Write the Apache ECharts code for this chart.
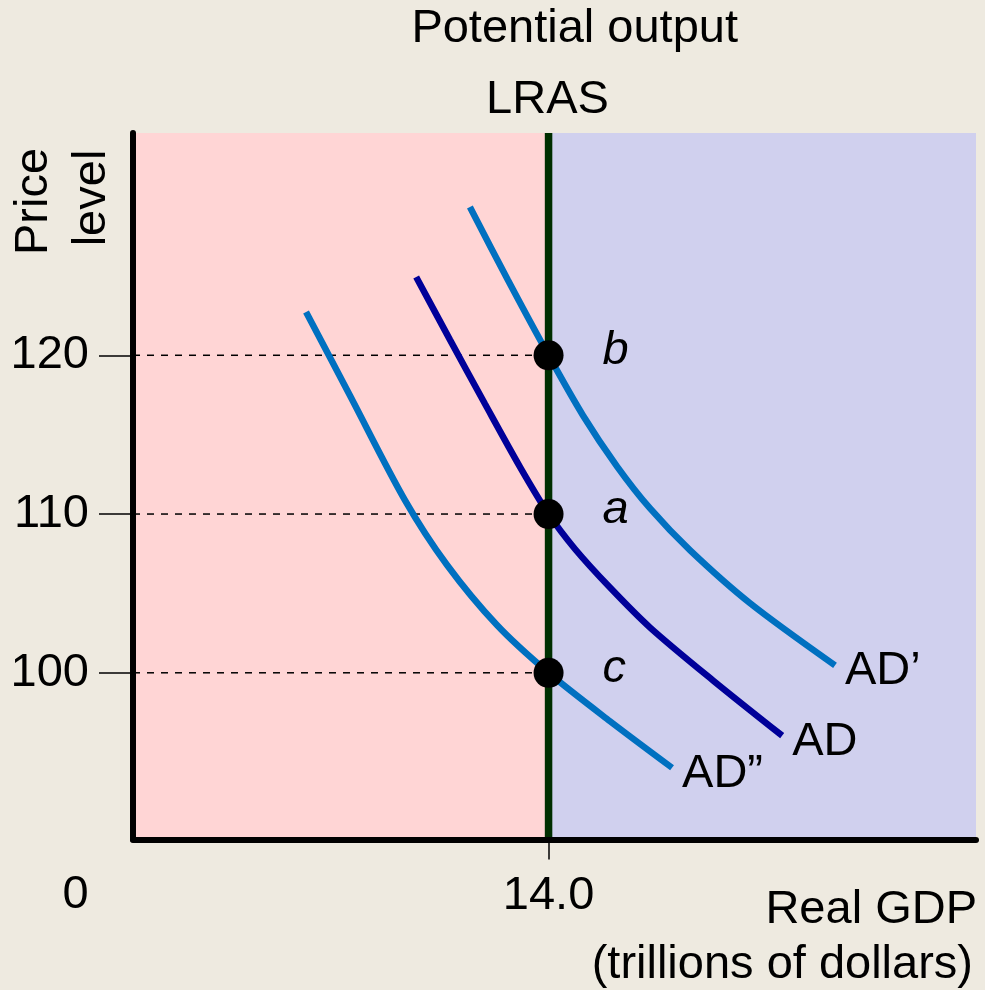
<!DOCTYPE html>
<html>
<head>
<meta charset="utf-8">
<script src="https://cdn.jsdelivr.net/npm/echarts@6/dist/echarts.min.js"></script>
<style>
  html, body { margin: 0; padding: 0; background: #EEEAE0; }
  #chart { width: 985px; height: 990px; }
</style>
</head>
<body>
<div id="chart"></div>
<script>
// Aggregate demand curves (real GDP in trillions, price level)
const adPrime = [[11.35, 129.34], [12.63, 124.74], [14.0, 120], [15.16, 116.21], [16.31, 112.99], [17.42, 110.35], [18.77, 107.71], [20.79, 104.38], [23.65, 100.47]];
const ad = [[9.54, 124.93], [10.68, 120.97], [11.86, 116.93], [13.04, 112.96], [14.0, 110], [14.89, 107.8], [16.07, 105.37], [17.42, 102.85], [19.54, 99.52], [21.87, 96.04]];
const adDoublePrime = [[5.83, 122.73], [7.3, 117.5], [9.16, 110.88], [10.58, 106.79], [12.26, 103.01], [14.0, 100], [16.07, 96.95], [18.16, 94.02]];

// Potential output and the equilibrium price levels on it
const potentialOutput = 14.0;
const priceLevels = [120, 110, 100];
const pointNames = ['b', 'a', 'c'];
const xTicks = [14.0];

const FONT = '"Liberation Sans", Arial, sans-serif';
const FS = 47;

const chart = echarts.init(document.getElementById('chart'));

const equilibria = priceLevels.map((p, i) => ({ value: [potentialOutput, p], name: pointNames[i] }));

const guideSeries = priceLevels.map(p => ({
  type: 'line',
  data: [[0, p], [potentialOutput, p]],
  symbol: 'none',
  silent: true,
  z: 3,
  lineStyle: { color: '#000', width: 1.5, type: [7, 7] }
}));

function adSeries(name, data, color) {
  return {
    name: name,
    type: 'line',
    data: data,
    smooth: 0.3,
    symbol: 'none',
    z: 5,
    lineStyle: { color: color, width: 6.5, cap: 'butt' },
    endLabel: {
      show: true,
      formatter: name,
      color: '#000',
      fontFamily: FONT,
      fontSize: FS,
      distance: 10,
      offset: [0, 6]
    }
  };
}

chart.setOption({
  backgroundColor: '#EEEAE0',
  animation: false,
  grid: { left: 133, top: 133, width: 843, height: 706.5 },
  xAxis: {
    type: 'value',
    min: 0,
    max: 28.4,
    z: 10,
    axisLine: { show: true, onZero: false, lineStyle: { color: '#000', width: 6 } },
    axisTick: { show: true, customValues: xTicks, length: 20, lineStyle: { color: '#000', width: 1.5 } },
    axisLabel: {
      customValues: xTicks,
      formatter: v => v.toFixed(1),
      color: '#000', fontFamily: FONT, fontSize: FS, margin: 33
    },
    splitLine: { show: false }
  },
  yAxis: {
    type: 'value',
    min: 89.5,
    max: 134,
    z: 10,
    axisLine: { show: true, onZero: false, lineStyle: { color: '#000', width: 6 } },
    axisTick: { show: true, customValues: priceLevels, length: 34, lineStyle: { color: '#000', width: 1.5 } },
    axisLabel: {
      customValues: priceLevels,
      color: '#000', fontFamily: FONT, fontSize: FS, margin: 44
    },
    splitLine: { show: false }
  },
  series: [
    {
      type: 'line',
      data: [[potentialOutput, 89.5], [potentialOutput, 134]],
      symbol: 'none',
      z: 4,
      lineStyle: { color: '#002E00', width: 7.5 },
      markArea: {
        silent: true,
        data: [
          [{ xAxis: 0, itemStyle: { color: '#FFD5D5' } }, { xAxis: potentialOutput }],
          [{ xAxis: potentialOutput, itemStyle: { color: '#D0D0EE' } }, { xAxis: 28.4 }]
        ]
      }
    },
    ...guideSeries,
    adSeries('AD\u2019', adPrime, '#0070C0'),
    adSeries('AD', ad, '#000099'),
    adSeries('AD\u201D', adDoublePrime, '#0070C0'),
    {
      type: 'scatter',
      data: equilibria,
      symbolSize: 30,
      z: 8,
      itemStyle: { color: '#000', opacity: 1 },
      label: {
        show: true,
        position: 'right',
        distance: 39,
        offset: [0, -4],
        formatter: p => p.name,
        color: '#000',
        opacity: 1,
        fontFamily: FONT,
        fontStyle: 'italic',
        fontSize: FS
      }
    }
  ],
  graphic: [
    { type: 'text', x: 574.7, y: 29, style: { text: 'Potential output', font: FS + 'px ' + FONT, fill: '#000', align: 'center', verticalAlign: 'middle' } },
    { type: 'text', x: 547.5, y: 100.4, style: { text: 'LRAS', font: FS + 'px ' + FONT, fill: '#000', align: 'center', verticalAlign: 'middle' } },
    { type: 'text', x: 33.7, y: 201.5, rotation: Math.PI / 2, style: { text: 'Price', font: FS + 'px ' + FONT, fill: '#000', align: 'center', verticalAlign: 'middle' } },
    { type: 'text', x: 91.7, y: 198, rotation: Math.PI / 2, style: { text: 'level', font: FS + 'px ' + FONT, fill: '#000', align: 'center', verticalAlign: 'middle' } },
    { type: 'text', x: 75.5, y: 895.4, style: { text: '0', font: FS + 'px ' + FONT, fill: '#000', align: 'center', verticalAlign: 'middle' } },
    { type: 'text', x: 977, y: 909.7, style: { text: 'Real GDP', font: FS + 'px ' + FONT, fill: '#000', align: 'right', verticalAlign: 'middle' } },
    { type: 'text', x: 973, y: 964.7, style: { text: '(trillions of dollars)', font: FS + 'px ' + FONT, fill: '#000', align: 'right', verticalAlign: 'middle' } }
  ]
});
</script>
</body>
</html>
